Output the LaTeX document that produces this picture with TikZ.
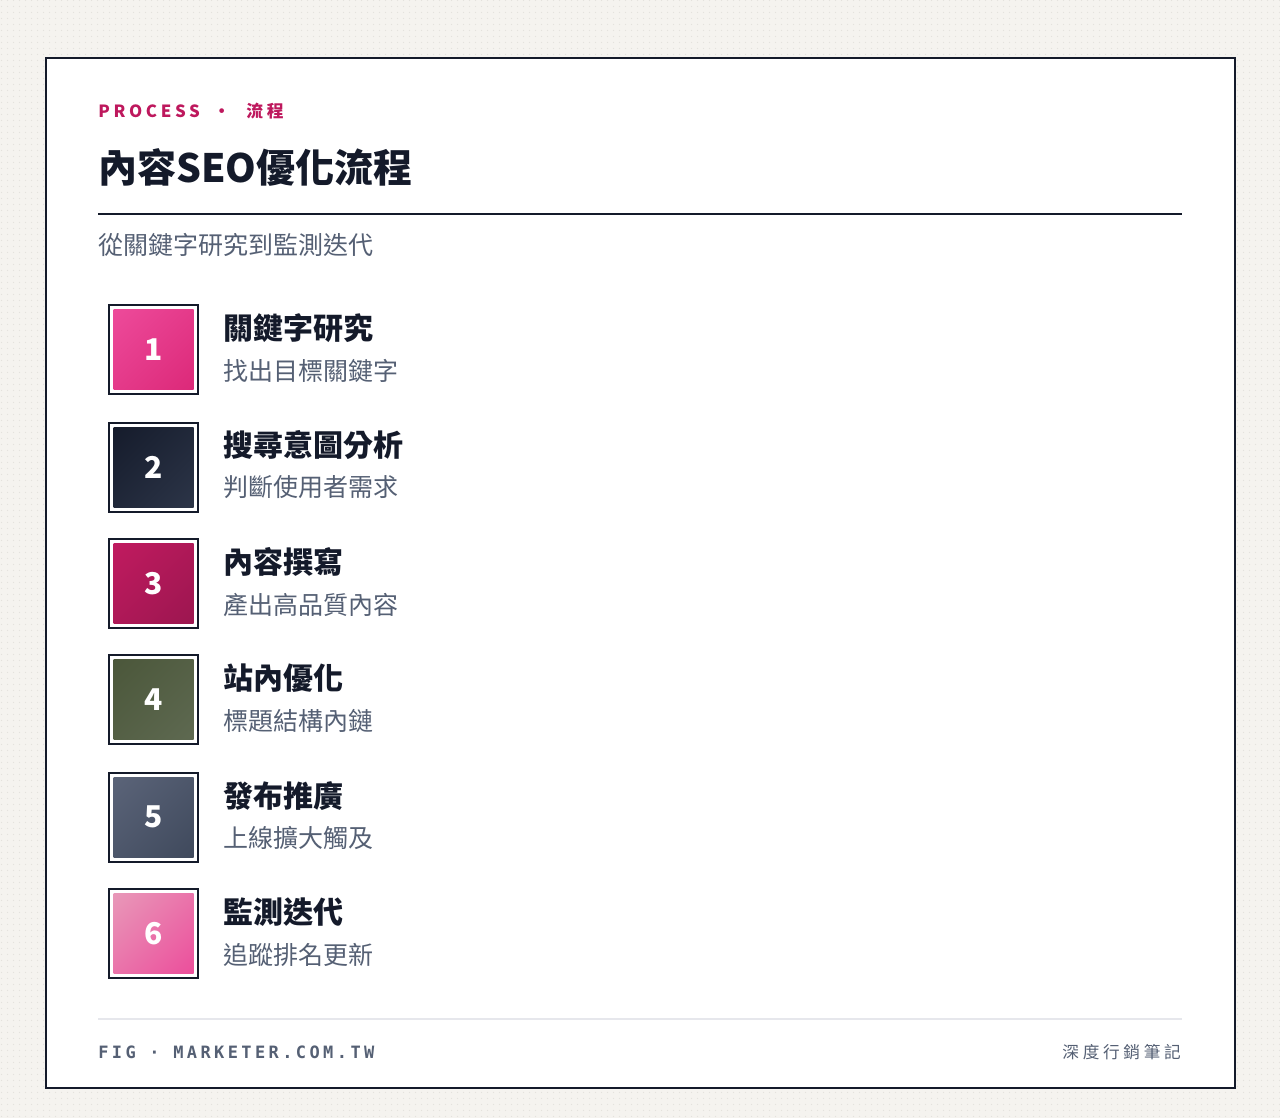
\documentclass[tikz,border=0pt]{standalone}
\usepackage{fontspec}
\usetikzlibrary{patterns.meta,shadings}
\setmainfont{Noto Sans CJK TC}
\newfontfamily\tcfont{Noto Sans CJK TC}
\newfontfamily\tckicker[LetterSpace=22]{Noto Sans CJK TC}
\newfontfamily\tcfoot[LetterSpace=22]{Noto Sans CJK TC}
\newfontfamily\monofoot[LetterSpace=20]{DejaVu Sans Mono}
\definecolor{ink}{HTML}{141A2A}
\definecolor{accent}{HTML}{BE185D}
\definecolor{muted}{HTML}{556074}
\definecolor{footrule}{HTML}{E6E7EC}
\definecolor{bgc}{HTML}{F5F3EF}
\definecolor{dotc}{HTML}{E3E1DC}
\definecolor{cAa}{HTML}{EE4C9C}\definecolor{cAb}{HTML}{DB2777}
\definecolor{cBa}{HTML}{141A2A}\definecolor{cBb}{HTML}{2D3649}
\definecolor{cCa}{HTML}{C21B60}\definecolor{cCb}{HTML}{9A164F}
\definecolor{cDa}{HTML}{4A5639}\definecolor{cDb}{HTML}{5F6A52}
\definecolor{cEa}{HTML}{5C657A}\definecolor{cEb}{HTML}{3E485B}
\definecolor{cFa}{HTML}{E89CBA}\definecolor{cFb}{HTML}{EC4A9A}
\tikzdeclarepattern{
  name=bgdots,
  type=uncolored,
  bounding box={(0pt,0pt) and (4.5pt,4.5pt)},
  tile size={(4.5pt,4.5pt)},
  code={\pgfpathcircle{\pgfpoint{2.25pt}{2.25pt}}{0.55pt}\pgfusepath{fill}}
}
\begin{document}
\begin{tikzpicture}[x=0.75pt,y=-0.75pt,
  kicker/.style={anchor=west, inner sep=0pt, text=accent, font=\tckicker\bfseries\fontsize{12.6}{16}\selectfont},
  maintitle/.style={anchor=west, inner sep=0pt, text=ink, font=\tcfont\bfseries\fontsize{29.3}{34}\selectfont},
  subtitle/.style={anchor=west, inner sep=0pt, text=muted, font=\tcfont\fontsize{18.75}{22}\selectfont},
  stepbox/.style 2 args={draw=ink, line width=1.5pt, fill=white, minimum size=66.75pt, inner sep=0pt,
    text=white, font=\tcfont\bfseries\fontsize{22.5}{26}\selectfont,
    path picture={\shade[upper left=#1, lower right=#2, upper right=#1!50!#2, lower left=#1!50!#2]
      ([shift={(3.375pt,-3.375pt)}]path picture bounding box.north west) rectangle
      ([shift={(-3.375pt,3.375pt)}]path picture bounding box.south east);}},
  steptitle/.style={anchor=west, inner sep=0pt, text=ink, font=\tcfont\bfseries\fontsize{22.5}{26}\selectfont},
  stepsub/.style={anchor=west, inner sep=0pt, text=muted, font=\tcfont\fontsize{18.75}{22}\selectfont},
  footl/.style={anchor=west, inner sep=0pt, text=muted, font=\monofoot\bfseries\fontsize{12.75}{15}\selectfont},
  footr/.style={anchor=east, inner sep=0pt, text=muted, font=\tcfoot\fontsize{12.5}{14}\selectfont}
]
\useasboundingbox (0,0) rectangle (1280,1118);
\fill[bgc] (0,0) rectangle (1280,1118);
\fill[pattern=bgdots, pattern color=dotc] (0,0) rectangle (1280,1118);
% card
\draw[ink, line width=1.5pt, fill=white] (46,58) rectangle (1235,1088);
% header
\node[kicker] (kick) at (98,111) {PROCESS\hspace{10pt}·\hspace{12.3pt}流程};
\node[maintitle] (title) at (98,167) {內容SEO優化流程};
\draw[ink, line width=1.5pt] (98,214) -- (1182,214);
\node[subtitle] (sub) at (98,245) {從關鍵字研究到監測迭代};
% steps
\node[stepbox={cAa}{cAb}] (s1) at (153.5,349.5) {1};
\node[steptitle] (t1) at (223,328.5) {關鍵字研究};
\node[stepsub] (d1) at (223,371) {找出目標關鍵字};
\node[stepbox={cBa}{cBb}] (s2) at (153.5,467) {2};
\node[steptitle] (t2) at (223,445) {搜尋意圖分析};
\node[stepsub] (d2) at (223,487.5) {判斷使用者需求};
\node[stepbox={cCa}{cCb}] (s3) at (153.5,583.5) {3};
\node[steptitle] (t3) at (223,562) {內容撰寫};
\node[stepsub] (d3) at (223,605) {產出高品質內容};
\node[stepbox={cDa}{cDb}] (s4) at (153.5,699.5) {4};
\node[steptitle] (t4) at (223,678.5) {站內優化};
\node[stepsub] (d4) at (223,721) {標題結構內鏈};
\node[stepbox={cEa}{cEb}] (s5) at (153.5,817) {5};
\node[steptitle] (t5) at (223,796.5) {發布推廣};
\node[stepsub] (d5) at (223,838.5) {上線擴大觸及};
\node[stepbox={cFa}{cFb}] (s6) at (153.5,933.5) {6};
\node[steptitle] (t6) at (223,912) {監測迭代};
\node[stepsub] (d6) at (223,954.5) {追蹤排名更新};
% footer
\draw[footrule, line width=1.2pt] (98,1019) -- (1182,1019);
\node[footl] (fl) at (98,1052) {FIG · MARKETER.COM.TW};
\node[footr] (fr) at (1181,1052) {深度行銷筆記};
\end{tikzpicture}
\end{document}
